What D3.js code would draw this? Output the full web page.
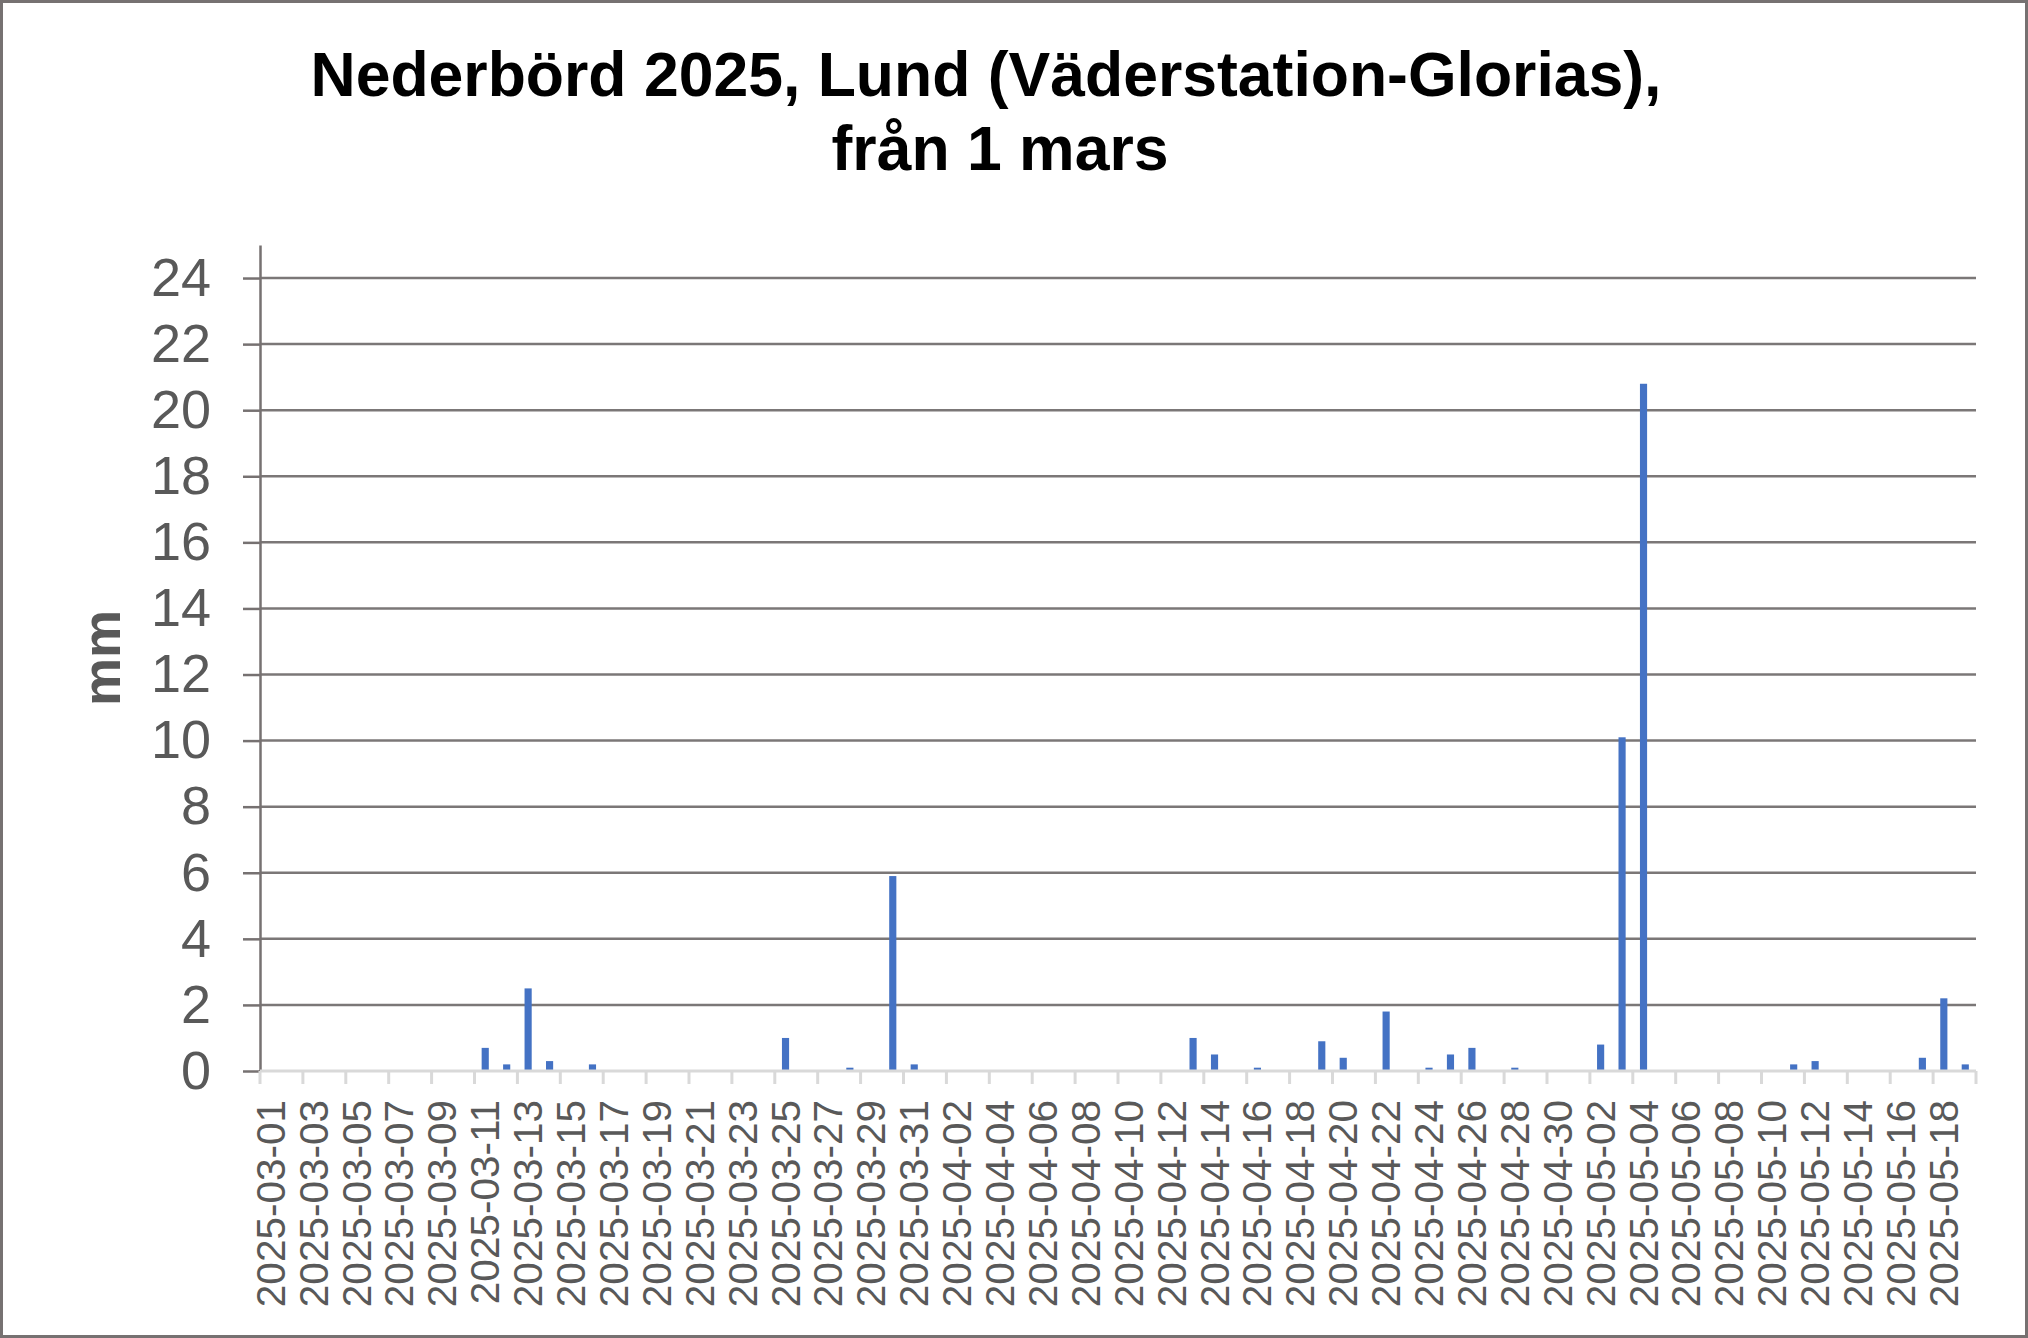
<!DOCTYPE html>
<html>
<head>
<meta charset="utf-8">
<script src="https://cdn.jsdelivr.net/npm/d3@7"></script>
<style>
  body { margin: 0; background: #fff; }
  svg text { font-family: "Liberation Sans", Arial, sans-serif; }
</style>
</head>
<body>
<div id="chart-container"></div>
<script>
// daily precipitation, mm
var dates = [
  "2025-03-01","2025-03-02","2025-03-03","2025-03-04","2025-03-05","2025-03-06","2025-03-07","2025-03-08","2025-03-09","2025-03-10",
  "2025-03-11","2025-03-12","2025-03-13","2025-03-14","2025-03-15","2025-03-16","2025-03-17","2025-03-18","2025-03-19","2025-03-20",
  "2025-03-21","2025-03-22","2025-03-23","2025-03-24","2025-03-25","2025-03-26","2025-03-27","2025-03-28","2025-03-29","2025-03-30",
  "2025-03-31","2025-04-01","2025-04-02","2025-04-03","2025-04-04","2025-04-05","2025-04-06","2025-04-07","2025-04-08","2025-04-09",
  "2025-04-10","2025-04-11","2025-04-12","2025-04-13","2025-04-14","2025-04-15","2025-04-16","2025-04-17","2025-04-18","2025-04-19",
  "2025-04-20","2025-04-21","2025-04-22","2025-04-23","2025-04-24","2025-04-25","2025-04-26","2025-04-27","2025-04-28","2025-04-29",
  "2025-04-30","2025-05-01","2025-05-02","2025-05-03","2025-05-04","2025-05-05","2025-05-06","2025-05-07","2025-05-08","2025-05-09",
  "2025-05-10","2025-05-11","2025-05-12","2025-05-13","2025-05-14","2025-05-15","2025-05-16","2025-05-17","2025-05-18","2025-05-19"
];
var rain = [
  0, 0, 0, 0, 0, 0, 0, 0, 0, 0,
  0.7, 0.2, 2.5, 0.3, 0, 0.2, 0, 0, 0, 0,
  0, 0, 0, 0, 1.0, 0, 0, 0.1, 0, 5.9,
  0.2, 0, 0, 0, 0, 0, 0, 0, 0, 0,
  0, 0, 0, 1.0, 0.5, 0, 0.1, 0, 0, 0.9,
  0.4, 0, 1.8, 0, 0.1, 0.5, 0.7, 0, 0.1, 0,
  0, 0, 0.8, 10.1, 20.8, 0, 0, 0, 0, 0,
  0, 0.2, 0.3, 0, 0, 0, 0, 0.4, 2.2, 0.2
];
var yTicks = [0, 2, 4, 6, 8, 10, 12, 14, 16, 18, 20, 22, 24];
var yMax = 25;
var titleLines = ["Nederbörd 2025, Lund (Väderstation-Glorias),", "från 1 mars"];
var yLabel = "mm";

var W = 2028, H = 1338;
var plot = {left: 260, right: 1976, top: 245, bottom: 1071};

var svg = d3.select("#chart-container").append("svg")
  .attr("width", W).attr("height", H);

svg.append("rect").attr("x", 1.5).attr("y", 1.5).attr("width", W - 3).attr("height", H - 3)
  .attr("fill", "#fff").attr("stroke", "#767171").attr("stroke-width", 3);

// title
svg.append("text").attr("x", 986).attr("y", 96).attr("text-anchor", "middle")
  .attr("font-size", 62.5).attr("font-weight", "bold").attr("fill", "#000").text(titleLines[0]);
svg.append("text").attr("x", 1000).attr("y", 170).attr("text-anchor", "middle")
  .attr("font-size", 62.5).attr("font-weight", "bold").attr("fill", "#000").text(titleLines[1]);

var x = d3.scaleBand().domain(dates).range([plot.left, plot.right])
  .paddingInner(2 / 3).paddingOuter(1 / 3);
var step = x.step();
var y = d3.scaleLinear().domain([0, yMax]).range([plot.bottom, plot.top]);

// gridlines
svg.append("g").selectAll("line")
  .data(yTicks.filter(function (d) { return d > 0; }))
  .enter().append("line")
    .attr("x1", plot.left).attr("x2", plot.right)
    .attr("y1", function (d) { return y(d); }).attr("y2", function (d) { return y(d); })
    .attr("stroke", "#7b7777").attr("stroke-width", 2.5);

// y axis
var yAxis = d3.axisLeft(y).tickValues(yTicks).tickSize(17).tickPadding(32).tickSizeOuter(0);
var gy = svg.append("g").attr("transform", "translate(" + plot.left + ",0)").call(yAxis);
gy.select(".domain").attr("stroke", "#767171").attr("stroke-width", 2.5);
gy.selectAll(".tick line").attr("stroke", "#767171").attr("stroke-width", 2.5);
gy.selectAll(".tick text").attr("font-size", 54).attr("fill", "#595959")
  .attr("font-family", "Liberation Sans, Arial, sans-serif");

svg.append("text")
  .attr("transform", "translate(120," + ((plot.top + plot.bottom) / 2) + ") rotate(-90)")
  .attr("text-anchor", "middle").attr("font-size", 54).attr("font-weight", "bold")
  .attr("fill", "#595959").text(yLabel);

// bars
svg.append("g").selectAll("rect")
  .data(rain.map(function (v, i) { return {date: dates[i], v: v}; }).filter(function (d) { return d.v > 0; }))
  .enter().append("rect")
    .attr("x", function (d) { return x(d.date); })
    .attr("width", x.bandwidth())
    .attr("y", function (d) { return y(d.v); })
    .attr("height", function (d) { return y(0) - y(d.v); })
    .attr("fill", "#4472c4");

// x axis: light line, tick marks on every second category boundary
var gx = svg.append("g");
gx.append("line").attr("x1", plot.left).attr("x2", plot.right)
  .attr("y1", plot.bottom).attr("y2", plot.bottom)
  .attr("stroke", "#d9d9d9").attr("stroke-width", 3);
gx.selectAll(".xt")
  .data(dates.filter(function (d, i) { return i % 2 === 0; }).concat([null]))
  .enter().append("line").attr("class", "xt")
    .attr("x1", function (d) { return d ? x(d) - step / 3 : plot.right; })
    .attr("x2", function (d) { return d ? x(d) - step / 3 : plot.right; })
    .attr("y1", plot.bottom).attr("y2", plot.bottom + 13)
    .attr("stroke", "#d9d9d9").attr("stroke-width", 3);
gx.selectAll(".xl")
  .data(dates.filter(function (d, i) { return i % 2 === 0; }))
  .enter().append("text").attr("class", "xl")
    .attr("transform", function (d) {
      return "translate(" + (x(d) + x.bandwidth() / 2 + 14) + "," + (plot.bottom + 29) + ") rotate(-90)";
    })
    .attr("text-anchor", "end").attr("font-size", 40.5).attr("fill", "#595959")
    .text(function (d) { return d; });
</script>
</body>
</html>
